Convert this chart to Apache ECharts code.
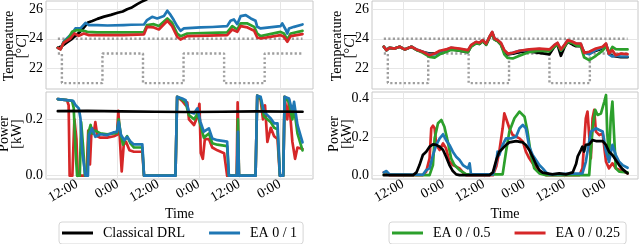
<!DOCTYPE html>
<html><head><meta charset="utf-8">
<script src="https://cdn.jsdelivr.net/npm/echarts@6/dist/echarts.min.js"></script>
<style>html,body{margin:0;padding:0;background:#fff}#c{width:640px;height:244px}</style>
</head><body><div id="c"></div>
<script>
// ---------- data (time in hours from day-0 midnight) ----------
const seriesNames = ['Classical DRL', 'EA 0 / 1', 'EA 0 / 0.5', 'EA 0 / 0.25'];
const xTicks = [12, 24, 36, 48, 60, 72];
const tempTicks = [22, 24, 26];
const powerTicksLeft = [0, 0.2];
const powerTicksRight = [0, 0.2, 0.4];

const setpointUpper = [[6.3,24],[78.7,24]];
const setpointLower = [[6.3,23],[7.5,23],[7.5,21],[19.5,21],[19.5,23],[31.5,23],[31.5,21],[43.5,21],[43.5,23],[55.5,23],[55.5,21],[67.5,21],[67.5,23],[78.7,23]];

// left: temperature
const leftTempBlack = [[6.3,23.4],[7.5,23.5],[9,23.75],[10.5,24.0],[12,24.3],[13,24.5],[14.5,24.9],[15.2,25.1],[16.5,25.2],[18,25.35],[20,25.5],[22,25.62],[24,25.76],[25.5,25.85],[26.8,26.0],[28,26.1],[29.8,26.35],[31,26.5],[32.2,26.62],[33.5,26.8]];
const leftTempBlue = [[6.3,23.39],[7.1,23.3],[8,23.8],[10.5,24.36],[11.5,24.7],[13,24.7],[14.5,25.08],[15.5,24.93],[17.9,24.93],[21,24.9],[25.8,24.93],[28,24.95],[31.8,24.97],[32.7,25.27],[34.2,25.49],[35.7,25.38],[37.7,25.54],[38.7,25.9],[39.7,25.6],[40.6,25.27],[41.6,24.86],[42.6,24.54],[43.6,24.7],[48.5,24.77],[52,24.8],[56.4,24.86],[57.4,25.22],[58.4,25.31],[59.4,24.99],[60.4,25.54],[61.9,25.6],[63.4,25.38],[64.8,25.22],[65.3,24.81],[66.3,24.7],[72.2,24.86],[72.7,25.04],[73.7,24.63],[74.2,24.36],[74.7,24.7],[76.2,24.81],[78.7,24.97]];
const leftTempGreen = [[6.3,23.39],[7.1,23.3],[8,23.75],[9.5,24.05],[10.5,24.47],[12,24.59],[14,24.54],[15,24.47],[17.9,24.43],[25.8,24.43],[31.8,24.45],[32.7,24.93],[34.7,24.99],[36.2,24.86],[38.7,25.38],[40.1,25.08],[41.6,24.36],[42.6,24.18],[44.6,24.36],[56.4,24.43],[57.9,24.86],[59.4,24.63],[60.4,25.04],[62.4,25.04],[64.4,24.81],[65.3,24.36],[66.3,24.18],[72.2,24.47],[73.2,24.36],[74.2,23.95],[75.2,24.36],[78.7,24.54]];
const leftTempRed = [[6.3,23.39],[7.1,23.28],[8,23.73],[10,24.02],[11.2,24.36],[12.5,24.2],[14,24.36],[15.5,24.25],[17.9,24.25],[25.8,24.25],[31.8,24.3],[32.7,24.81],[34.7,24.77],[36.2,24.63],[38.7,25.22],[40.1,24.86],[41.6,24.14],[42.6,23.95],[44.6,24.18],[56.4,24.25],[57.9,24.63],[59.4,24.47],[60.4,24.86],[62.4,24.77],[64.4,24.54],[65.3,24.09],[66.3,24.02],[72.2,24.25],[73.2,24.14],[74.2,23.8],[75.2,24.18],[78.7,24.32]];

// left: power
const leftPowerBlack = [[6.3,0.229],[15,0.23],[25,0.228],[35,0.227],[45,0.226],[55,0.227],[65,0.228],[78.7,0.227]];
const leftPowerBlue = [[6.3,0.272],[9.0,0.268],[10.8,0.266],[11.5,0.251],[12.5,0.239],[13.0,0.203],[13.5,0.085],[14.5,0],[15.2,0],[15.5,0.144],[16.4,0.168],[17.4,0.138],[18.9,0.147],[20.9,0.144],[22.9,0.154],[23.8,0.156],[24.3,0.191],[25.0,0.144],[26.0,0.126],[26.8,0.138],[27.8,0.121],[28.8,0.111],[31.3,0.111],[31.8,0],[41.1,0],[41.6,0.28],[43.1,0.274],[44.1,0.268],[45.1,0.227],[46.6,0.221],[47.6,0.239],[48.5,0.191],[49.5,0.156],[51.0,0.168],[52.0,0.132],[53.5,0.126],[56.4,0.121],[56.9,0],[59.3,0],[59.6,0.156],[59.9,0],[64.8,0],[65.3,0.284],[66.3,0.28],[67.3,0.227],[68.3,0.215],[69.3,0.203],[70.3,0.186],[71.3,0.186],[72.0,0],[73.0,0],[73.4,0.28],[74.7,0.274],[75.7,0.227],[76.2,0.262],[77.2,0.18],[78.7,0.118]];
const leftPowerGreen = [[6.3,0.272],[9.0,0.268],[10.5,0.266],[11.0,0.24],[11.5,0.1],[12.0,0],[12.8,0],[13.2,0.19],[13.8,0.1],[14.3,0],[15.0,0],[15.4,0.155],[16.0,0.18],[16.5,0.15],[17.4,0.16],[18.9,0.15],[20.9,0.147],[22.9,0.15],[23.8,0.152],[24.3,0.2],[25.0,0.14],[25.6,0.11],[26.0,0.125],[26.8,0.14],[27.8,0.115],[28.8,0.1],[31.3,0.1],[31.8,0],[41.1,0],[41.6,0.28],[43.1,0.27],[44.1,0.26],[45.1,0.215],[46.6,0.2],[47.6,0.22],[48.5,0.18],[49.5,0.135],[51.0,0.15],[52.0,0.115],[53.5,0.11],[56.4,0.105],[56.9,0],[59.3,0],[59.6,0.2],[59.9,0],[64.8,0],[65.3,0.284],[66.3,0.275],[67.3,0.21],[68.3,0.2],[69.3,0.19],[70.3,0.17],[71.3,0.165],[72.0,0],[73.0,0],[73.4,0.28],[74.7,0.26],[75.7,0.2],[76.2,0.24],[77.2,0.15],[78.7,0.09]];
const leftPowerRed = [[6.3,0.272],[9.0,0.268],[9.5,0.25],[9.8,0],[10.6,0],[11.2,0.2],[11.8,0.13],[12.2,0],[14.8,0],[15.3,0.16],[15.8,0.04],[16.3,0.17],[16.9,0.15],[17.4,0.19],[18.0,0.14],[18.9,0.135],[20.9,0.135],[22.9,0.14],[23.8,0.145],[24.2,0.23],[24.7,0.12],[25.2,0.015],[25.8,0.11],[26.5,0.12],[27.5,0.09],[28.8,0.085],[31.3,0.085],[31.8,0],[41.1,0],[41.6,0.28],[43.1,0.265],[44.1,0.25],[44.6,0.26],[45.1,0.2],[46.6,0.18],[47.6,0.21],[48.2,0.255],[48.6,0.08],[49.2,0.06],[49.8,0.13],[51.0,0.13],[52.0,0.1],[53.5,0.09],[55.5,0.08],[56.4,0],[59.2,0],[59.5,0.26],[59.9,0],[64.8,0],[65.3,0.284],[66.3,0.27],[67.0,0.2],[67.6,0.25],[68.3,0.12],[69.3,0.17],[70.3,0.14],[71.3,0.13],[72.0,0],[73.0,0],[73.4,0.28],[74.2,0.2],[74.7,0.27],[75.7,0.12],[76.5,0.06],[77.2,0.1],[78.7,0.095]];

// right: temperature
const rightTempBlack = [[6.3,23.46],[7.1,23.23],[8,23.39],[9.5,23.34],[11,23.46],[12.5,23.28],[14.5,23.46],[16,23.25],[17.9,23.1],[19.9,23.0],[21.4,23.0],[22.9,23.1],[24.8,23.2],[26.3,23.3],[28.8,23.2],[31.3,23.1],[32.2,23.5],[33.7,23.7],[34.7,23.65],[35.7,23.85],[36.7,23.6],[37.7,24.1],[38.5,24.4],[39.2,23.95],[40.1,23.85],[41.1,23.6],[42.1,23.1],[43.1,22.95],[44.6,23.0],[46.6,23.1],[49.5,23.15],[52.5,23.05],[55.5,22.95],[56.9,23.45],[57.9,23.6],[58.9,22.85],[59.9,23.4],[60.9,23.8],[62.4,23.6],[63.4,23.5],[64.8,23.5],[65.8,23.1],[67.3,23.0],[69.3,23.2],[71.3,23.35],[72.3,23.6],[73.2,23.0],[74.2,22.85],[75.2,22.8],[76.7,22.75],[78.7,22.75]];
const rightTempBlue = [[6.3,23.46],[7.1,23.23],[8,23.39],[9.5,23.34],[11,23.46],[12.5,23.28],[14.5,23.46],[16,23.28],[17.9,23.12],[19.9,22.95],[21.4,22.95],[22.9,23.1],[24.8,23.25],[26.3,23.38],[28.8,23.3],[31.3,23.2],[32.2,23.55],[33.7,23.78],[34.7,23.72],[35.7,23.9],[36.7,23.66],[37.7,24.12],[38.5,24.45],[39.2,24.0],[40.1,23.9],[41.1,23.7],[42.1,23.2],[43.1,23.0],[44.6,23.05],[46.6,23.18],[49.5,23.25],[52.5,23.3],[55.5,23.22],[56.9,23.55],[57.9,23.7],[58.9,23.2],[59.9,23.55],[60.9,23.9],[62.4,23.78],[63.4,23.66],[64.8,23.65],[65.8,23.05],[67.3,22.95],[69.3,23.25],[71.3,23.42],[72.3,23.65],[73.2,22.95],[74.2,22.8],[75.2,22.85],[76.7,22.8],[78.7,22.8]];
const rightTempGreen = [[6.3,23.46],[7.1,23.23],[8,23.39],[9.5,23.34],[11,23.46],[12.5,23.28],[14.5,23.46],[16,23.25],[17.9,23.05],[19.9,22.78],[21.4,22.73],[22.9,22.95],[24.8,23.1],[26.3,23.25],[28.8,23.2],[31.3,23.1],[32.2,23.45],[33.7,23.7],[34.7,23.65],[35.7,23.85],[36.7,23.6],[37.7,24.1],[38.5,24.4],[39.2,23.95],[40.1,23.85],[41.1,23.6],[42.1,22.95],[43.1,22.7],[44.6,22.67],[46.6,22.85],[49.5,23.1],[52.5,23.2],[55.5,23.15],[56.9,23.45],[57.9,23.6],[58.9,23.2],[59.9,23.45],[60.9,23.8],[62.4,23.7],[63.4,23.55],[64.8,23.5],[65.8,22.75],[67.3,22.55],[69.3,22.85],[71.3,23.2],[72.3,23.5],[73.2,23.05],[74.2,23.45],[75.2,23.3],[76.7,23.28],[78.7,23.28]];
const rightTempRed = [[6.3,23.46],[7.1,23.23],[8,23.39],[9.5,23.34],[11,23.46],[12.5,23.28],[14.5,23.46],[16,23.28],[17.9,23.12],[19.9,22.89],[21.4,23.0],[22.9,23.19],[24.8,23.28],[26.3,23.41],[28.8,23.34],[31.3,23.23],[32.2,23.57],[33.7,23.8],[34.7,23.73],[35.7,23.91],[36.7,23.68],[37.7,24.14],[38.5,24.47],[39.2,24.02],[40.1,23.91],[41.1,23.73],[42.1,23.23],[43.1,23.0],[44.6,23.05],[46.6,23.19],[49.5,23.28],[52.5,23.34],[55.5,23.28],[56.9,23.57],[57.9,23.73],[58.9,23.28],[59.9,23.57],[60.9,23.91],[62.4,23.8],[63.4,23.68],[64.8,23.68],[65.8,23.05],[67.3,23.12],[69.3,23.34],[71.3,23.46],[72.3,23.68],[73.2,23.0],[74.2,23.23],[75.2,22.89],[76.7,23.0],[78.7,22.96]];

// right: power
const rightPowerBlack = [[6.3,0.003],[15.0,0.003],[16.0,0.017],[16.9,0.055],[17.9,0.107],[18.9,0.124],[19.9,0.15],[20.9,0.162],[21.9,0.159],[22.9,0.15],[23.9,0.133],[24.8,0.098],[25.8,0.055],[26.8,0.024],[27.8,0.007],[28.8,0.003],[37.7,0.003],[38.7,0.017],[39.7,0.081],[40.6,0.124],[41.6,0.141],[42.6,0.159],[43.6,0.172],[45.6,0.179],[47.6,0.172],[48.5,0.159],[49.5,0.133],[50.5,0.098],[51.5,0.059],[52.5,0.029],[53.5,0.016],[56.4,0.007],[58.4,0.012],[60.4,0.007],[62.4,0.017],[63.4,0.06],[63.9,0.1],[64.4,0.09],[64.9,0.135],[65.3,0.15],[65.8,0.125],[66.3,0.16],[67.3,0.162],[68.3,0.184],[69.3,0.179],[71.3,0.179],[72.3,0.159],[73.2,0.124],[74.2,0.107],[75.2,0.081],[76.2,0.055],[77.2,0.034],[78.7,0.012]];
const rightPowerBlue = [[6.3,0.017],[7.1,0.024],[8.0,0.007],[17.9,0.005],[18.9,0.029],[19.9,0.038],[20.9,0.107],[21.9,0.159],[22.9,0.193],[23.9,0.214],[24.3,0.21],[24.8,0.184],[25.8,0.159],[26.8,0.124],[27.8,0.098],[28.8,0.081],[29.8,0.055],[31.3,0.038],[31.8,0.064],[32.2,0.007],[38.7,0.007],[39.7,0.072],[40.1,0.124],[40.6,0.107],[41.6,0.159],[42.6,0.193],[44.1,0.193],[45.6,0.202],[46.6,0.245],[47.6,0.262],[48.5,0.245],[49.5,0.15],[50.5,0.107],[51.5,0.081],[52.5,0.055],[53.5,0.038],[54.5,0.017],[55.5,0.007],[65.3,0.012],[66.3,0.072],[66.8,0.124],[67.8,0.228],[69.3,0.245],[70.3,0.236],[71.3,0.228],[72.3,0.124],[73.2,0.072],[74.2,0.159],[75.2,0.107],[76.2,0.072],[77.2,0.055],[78.7,0.041]];
const rightPowerGreen = [[6.3,0.005],[19.9,0.003],[20.9,0.055],[21.4,0.193],[22.4,0.271],[23.4,0.288],[24.3,0.253],[25.3,0.176],[26.3,0.09],[27.3,0.055],[28.8,0.029],[30.8,0.007],[41.6,0.007],[42.6,0.124],[43.6,0.228],[45.1,0.297],[46.6,0.331],[48.1,0.305],[49.0,0.228],[50.0,0.107],[51.0,0.038],[52.5,0.012],[54.5,0.003],[67.3,0.003],[67.8,0.012],[68.3,0.245],[69.1,0.34],[69.8,0.314],[70.8,0.322],[71.8,0.383],[72.3,0.417],[72.7,0.21],[73.2,0.09],[73.7,0.297],[74.2,0.383],[74.7,0.21],[75.2,0.038],[76.2,0.021],[78.7,0.017]];
const rightPowerRed = [[6.3,0.017],[7.1,0.017],[8.0,0.003],[17.9,0.003],[18.9,0.021],[19.9,0.09],[20.4,0.245],[20.9,0.259],[21.4,0.245],[21.9,0.159],[22.9,0.133],[23.9,0.167],[24.8,0.141],[25.8,0.072],[26.8,0.055],[27.8,0.047],[28.8,0.038],[29.8,0.017],[30.8,0.003],[38.7,0.003],[39.7,0.047],[40.6,0.124],[41.6,0.245],[42.1,0.322],[42.6,0.297],[43.6,0.245],[44.6,0.21],[46.6,0.193],[47.6,0.176],[48.5,0.124],[49.5,0.09],[50.5,0.064],[51.5,0.038],[52.5,0.024],[53.5,0.012],[54.5,0.003],[64.4,0.003],[65.3,0.038],[66.3,0.297],[66.8,0.331],[67.3,0.21],[67.8,0.09],[68.3,0.297],[68.8,0.34],[69.3,0.228],[70.3,0.21],[71.3,0.219],[72.3,0.072],[73.2,0.038],[74.2,0.064],[75.2,0.038],[77.2,0.024],[78.7,0.012]];

// ---------- chart ----------
const FONT = "'Liberation Serif', 'DejaVu Serif', serif";
const FS = 14;
const COLORS = {'Classical DRL':'#000000','EA 0 / 1':'#1f77b4','EA 0 / 0.5':'#2ca02c','EA 0 / 0.25':'#d62728'};
const X_MIN = 2.8, X_MAX = 81.8;

const grids = [
  {left:46, top:1, width:267, height:88},
  {left:46, top:92, width:267, height:87},
  {left:372, top:1, width:266, height:88},
  {left:372, top:92, width:266, height:87}
].map(g => Object.assign(g, {show:true, borderColor:'#c8c8c8', borderWidth:1, backgroundColor:'#fff'}));

function xAxisFor(i, bottom) {
  return {
    type:'value', gridIndex:i, min:X_MIN, max:X_MAX,
    axisLine:{show:false}, axisTick:{show:false, customValues:xTicks},
    axisLabel:{show:bottom, customValues:xTicks, rotate:30, margin:4, color:'#000',
      fontFamily:FONT, fontSize:FS, formatter:v => (Math.round(v) % 24 === 12 ? '12:00' : '0:00')},
    splitLine:{show:true, lineStyle:{color:'#e6e6e6', width:1}},
    name: bottom ? 'Time' : '', nameLocation:'middle', nameGap:28,
    nameTextStyle:{fontFamily:FONT, fontSize:FS, color:'#000'}
  };
}
function yAxisFor(i, min, max, ticks, fmt) {
  return {
    type:'value', gridIndex:i, min:min, max:max,
    axisLine:{show:false}, axisTick:{show:false, customValues:ticks},
    axisLabel:{customValues:ticks, margin:3, color:'#000', fontFamily:FONT, fontSize:FS, formatter:fmt},
    splitLine:{show:true, lineStyle:{color:'#e6e6e6', width:1}}
  };
}
const fmtT = v => String(Math.round(v));
const fmtP = v => v.toFixed(1);

function line(name, data, gi, w) {
  return {type:'line', name:name, xAxisIndex:gi, yAxisIndex:gi, data:data, symbol:'none',
    silent:true, animation:false, clip:true,
    lineStyle:{color:COLORS[name], width:w || 2.7, cap:'round', join:'round'},
    itemStyle:{color:COLORS[name]}};
}
function setpoint(data, gi) {
  return {type:'line', name:'setpoint', xAxisIndex:gi, yAxisIndex:gi, data:data, symbol:'none',
    silent:true, animation:false,
    lineStyle:{color:'#9e9e9e', width:2.4, type:[2.2,2.3], cap:'butt'}};
}

const series = [
  setpoint(setpointUpper,0), setpoint(setpointLower,0),
  line('Classical DRL', leftTempBlack, 0), line('EA 0 / 1', leftTempBlue, 0),
  line('EA 0 / 0.5', leftTempGreen, 0), line('EA 0 / 0.25', leftTempRed, 0),

  line('EA 0 / 0.25', leftPowerRed, 1), line('EA 0 / 0.5', leftPowerGreen, 1),
  line('EA 0 / 1', leftPowerBlue, 1), line('Classical DRL', leftPowerBlack, 1),

  setpoint(setpointUpper,2), setpoint(setpointLower,2),
  line('Classical DRL', rightTempBlack, 2), line('EA 0 / 1', rightTempBlue, 2),
  line('EA 0 / 0.5', rightTempGreen, 2), line('EA 0 / 0.25', rightTempRed, 2),

  line('EA 0 / 0.25', rightPowerRed, 3), line('EA 0 / 0.5', rightPowerGreen, 3),
  line('EA 0 / 1', rightPowerBlue, 3), line('Classical DRL', rightPowerBlack, 3)
];

function yName(text, cx, cy) {
  return {type:'text', x:cx, y:cy, rotation:Math.PI/2, silent:true,
    style:{text:text, fill:'#000', font:FS + 'px ' + FONT, align:'center', verticalAlign:'middle', lineHeight:13,
      rich:{i:{fontStyle:'italic', fontFamily:FONT, fontSize:FS, fill:'#000'}}}};
}

const legendCommon = {orient:'horizontal', icon:'rect', itemWidth:31, itemHeight:3, itemGap:24,
  borderColor:'#d6d6d6', borderWidth:1, borderRadius:3, padding:[4,6,4,3], backgroundColor:'#fff',
  selectedMode:false, textStyle:{fontFamily:FONT, fontSize:FS, color:'#000', padding:[0,0,0,5]}};

const option = {
  animation:false,
  backgroundColor:'#fff',
  grid:grids,
  xAxis:[xAxisFor(0,false), xAxisFor(1,true), xAxisFor(2,false), xAxisFor(3,true)],
  yAxis:[
    yAxisFor(0, 20.6, 26.56, tempTicks, fmtT),
    yAxisFor(1, -0.0117, 0.297, powerTicksLeft, fmtP),
    yAxisFor(2, 20.6, 26.56, tempTicks, fmtT),
    yAxisFor(3, -0.017, 0.4326, powerTicksRight, fmtP)
  ],
  legend:[
    Object.assign({}, legendCommon, {left:59, top:222, data:['Classical DRL','EA 0 / 1']}),
    Object.assign({}, legendCommon, {left:389, top:222, data:['EA 0 / 0.5','EA 0 / 0.25']})
  ],
  graphic:[
    yName('Temperature\n[°{i|C}]', 15.5, 46),
    yName('Power\n[kW]', 10.5, 134),
    yName('Temperature\n[°{i|C}]', 344, 46),
    yName('Power\n[kW]', 340.5, 134)
  ],
  series:series
};
const chart = echarts.init(document.getElementById('c'), null, {renderer:'canvas'});
chart.setOption(option);
</script></body></html>
